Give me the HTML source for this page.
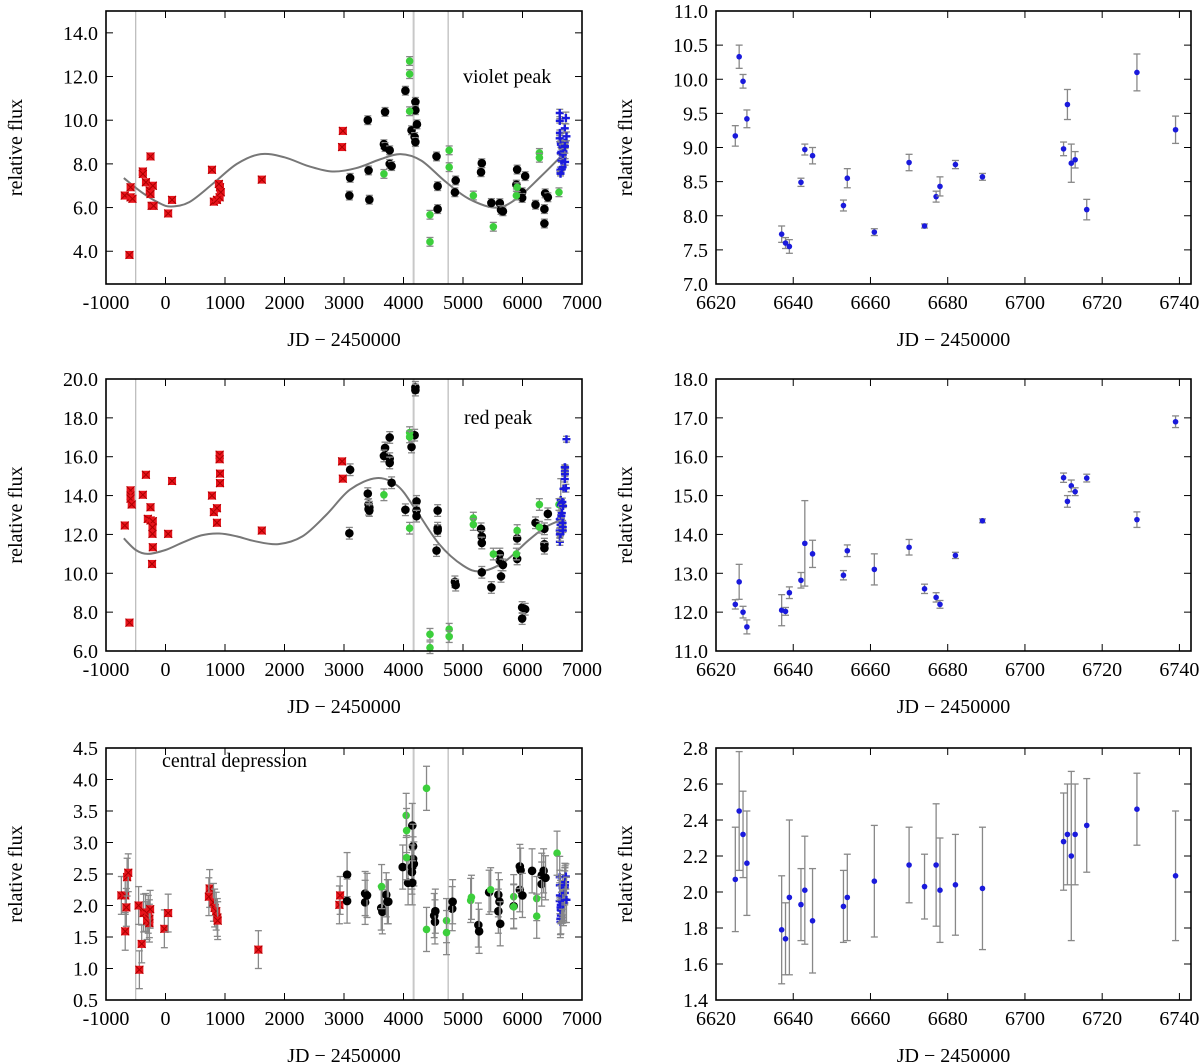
<!DOCTYPE html>
<html><head><meta charset="utf-8"><style>
html,body{margin:0;padding:0;background:#fff}
svg{display:block}
text{font-family:"Liberation Serif",serif;fill:#000}
</style></head><body>
<svg id="c" width="1200" height="1064" viewBox="0 0 1200 1064" xmlns="http://www.w3.org/2000/svg"></svg>
<script>
// ---------- data ----------
const rightJD=[6625,6626,6627,6628,6637,6638,6639,6642,6643,6645,6653,6654,6661,6670,6674,6677,6678,6682,6689,6710,6711,6712,6713,6716,6729,6739];
const violetRight=[9.17,10.33,9.97,9.42,7.73,7.6,7.55,8.49,8.97,8.88,8.15,8.55,7.76,8.78,7.85,8.28,8.43,8.75,8.57,8.98,9.63,8.77,8.82,8.09,10.1,9.26];
const violetRightErr=[0.15,0.17,0.1,0.13,0.12,0.08,0.1,0.06,0.08,0.12,0.08,0.14,0.05,0.12,0.03,0.08,0.14,0.06,0.05,0.1,0.22,0.28,0.12,0.15,0.27,0.2];
const redRight=[12.2,12.78,12.0,11.62,12.05,12.02,12.5,12.82,13.77,13.5,12.95,13.58,13.1,13.67,12.6,12.38,12.2,13.46,14.35,15.46,14.85,15.25,15.1,15.45,14.38,16.9];
const redRightErr=[0.12,0.45,0.15,0.18,0.4,0.1,0.15,0.2,1.1,0.35,0.12,0.15,0.4,0.2,0.12,0.12,0.1,0.08,0.05,0.12,0.15,0.15,0.1,0.1,0.2,0.15];
const centRight=[2.07,2.45,2.32,2.16,1.79,1.74,1.97,1.93,2.01,1.84,1.92,1.97,2.06,2.15,2.03,2.15,2.01,2.04,2.02,2.28,2.32,2.2,2.32,2.37,2.46,2.09];
const centRightErr=[0.29,0.33,0.24,0.29,0.3,0.2,0.43,0.2,0.3,0.29,0.2,0.24,0.31,0.21,0.18,0.34,0.29,0.28,0.34,0.27,0.28,0.47,0.28,0.26,0.2,0.36];

const violetRedJD=[-684,-587,-587,-606,-555,-381,-381,-329,-252,-265,-252,-213,-232,-200,110,45,781,813,865,910,916,929,897,1619,2981,2968];
const violetRed=[6.55,6.47,6.93,3.83,6.4,7.65,7.54,7.16,8.34,6.78,6.62,7.0,6.08,6.08,6.35,5.73,7.73,6.27,6.35,6.47,6.93,6.7,7.08,7.28,9.51,8.77];
const violetBlackJD=[3103,3090,3400,3413,3426,3690,3671,3690,3768,3768,3800,4032,4135,4200,4200,4226,4187,4200,4555,4574,4574,4877,4864,5316,5303,5477,5619,5639,5671,5910,5897,5994,5994,6045,6219,6368,6368,6381,6426];
const violetBlack=[7.36,6.55,10.0,7.7,6.36,10.38,8.9,8.77,8.62,8.0,7.9,11.35,9.54,10.84,10.46,9.81,9.23,9.0,8.34,6.98,5.93,7.24,6.7,8.03,7.62,6.21,6.2,5.89,5.83,7.74,7.05,6.7,6.44,7.44,6.13,5.93,5.27,6.65,6.47];
const violetGreenJD=[4103,4103,4103,3671,4445,4445,4768,4768,5174,5510,5897,5910,6284,6284,6613];
const violetGreen=[12.71,12.11,10.41,7.54,5.67,4.43,8.62,7.85,6.55,5.12,6.55,6.93,8.5,8.28,6.7];
const violetFitJD=[-700,-400,-100,100,400,800,1200,1600,2000,2400,2800,3200,3600,3950,4300,4700,5100,5550,5900,6300,6650];
const violetFit=[7.35,6.7,6.2,6.05,6.25,7.1,8.0,8.45,8.3,7.9,7.65,7.8,8.2,8.45,8.15,7.2,6.4,6.0,6.4,7.4,8.35];

const redRedJD=[-684,-606,-587,-587,-587,-568,-381,-329,-252,-297,-252,-213,-219,-219,-213,-226,45,110,781,813,865,865,910,910,916,916,1619,2968,2981];
const redRed=[12.46,7.46,14.27,14.0,13.84,13.54,14.04,15.07,13.4,12.8,12.72,12.68,12.37,12.03,11.34,10.48,12.03,14.75,14.0,13.15,13.35,12.6,16.1,15.87,15.13,14.64,12.2,15.76,14.87];
const redBlackJD=[3103,3090,3400,3413,3426,3413,3426,3690,3671,3768,3768,3768,3800,4032,4200,4200,4187,4135,4219,4219,4219,4574,4574,4574,4555,4864,4877,5303,5316,5316,5316,5477,5619,5619,5671,5639,5910,5910,5994,6045,5994,6219,6368,6368,6368,6426];
const redBlack=[15.33,12.06,14.1,13.54,13.4,13.3,13.23,16.45,16.04,15.9,15.68,16.99,14.66,13.27,19.57,19.43,17.11,16.5,13.7,13.23,12.94,13.23,12.32,12.2,11.17,9.56,9.39,12.29,11.89,11.56,10.05,9.27,10.99,10.65,10.43,9.84,11.8,10.74,8.24,8.15,7.67,12.6,12.29,11.5,11.29,13.06];
const redGreenJD=[4103,4103,4103,3671,4445,4445,4768,4768,5174,5174,5510,5897,5910,6284,6284,6613];
const redGreen=[17.24,17.02,12.32,14.04,6.86,6.17,7.12,6.74,12.84,12.51,10.99,10.99,12.2,13.54,12.37,13.54];
const redFitJD=[-700,-500,-300,0,300,600,900,1200,1500,1900,2300,2700,3100,3550,3900,4200,4600,5000,5300,5700,6100,6400,6700];
const redFit=[11.8,11.2,11.0,11.2,11.6,11.95,12.05,11.9,11.65,11.5,11.9,13.0,14.3,14.9,14.5,13.3,11.5,10.4,10.1,10.6,11.7,12.4,12.8];

const centRedJD=[-742,-677,-658,-677,-645,-626,-452,-439,-400,-368,-335,-310,-290,-271,-271,-258,-19,45,742,729,806,826,852,871,877,1561,2923,2935];
const centRed=[2.16,2.16,1.97,1.59,2.45,2.52,2.0,0.98,1.39,1.88,1.89,1.76,1.86,1.79,1.72,1.94,1.63,1.88,2.27,2.14,2.05,1.96,1.91,1.81,1.76,1.3,2.01,2.16];
const centBlackJD=[3052,3052,3355,3355,3387,3626,3645,3710,3729,3745,3987,4077,4148,4161,4161,4174,4142,4142,4148,4516,4529,4535,4819,4826,5258,5271,5439,5594,5594,5613,5626,5852,5955,5955,5968,5999,6161,6323,6323,6355,6387];
const centBlack=[2.49,2.07,2.19,2.05,2.16,1.96,1.9,2.17,2.06,2.06,2.61,2.36,3.27,2.94,2.74,2.66,2.61,2.53,2.36,1.84,1.74,1.91,1.95,2.06,1.69,1.59,2.21,2.17,1.91,2.06,1.71,1.99,2.25,2.62,2.56,2.16,2.55,2.34,2.48,2.55,2.44];
const centGreenJD=[3632,4045,4052,4052,4387,4387,4723,4723,5129,5142,5465,5852,5852,6239,6239,6581];
const centGreen=[2.3,3.43,3.19,2.76,3.86,1.62,1.76,1.57,2.08,2.13,2.25,2.14,1.98,2.11,1.83,2.83];

const leftTicksX=[-1000,0,1000,2000,3000,4000,5000,6000,7000];
const rightTicksX=[6620,6640,6660,6680,6700,6720,6740];
const vlinesJD=[-500,4170,4750];

// ---------- drawing ----------
const svg=document.getElementById('c');
const NS='http://www.w3.org/2000/svg';
function mk(tag,attrs,parent){const e=document.createElementNS(NS,tag);for(const k in attrs)e.setAttribute(k,attrs[k]);(parent||svg).appendChild(e);return e;}

function smoothPath(pts){
  let d='M'+pts[0][0].toFixed(1)+','+pts[0][1].toFixed(1);
  for(let i=0;i<pts.length-1;i++){
    const p0=pts[Math.max(0,i-1)],p1=pts[i],p2=pts[i+1],p3=pts[Math.min(pts.length-1,i+2)];
    const c1x=p1[0]+(p2[0]-p0[0])/6,c1y=p1[1]+(p2[1]-p0[1])/6;
    const c2x=p2[0]-(p3[0]-p1[0])/6,c2y=p2[1]-(p3[1]-p1[1])/6;
    d+=` C${c1x.toFixed(1)},${c1y.toFixed(1)} ${c2x.toFixed(1)},${c2y.toFixed(1)} ${p2[0].toFixed(1)},${p2[1].toFixed(1)}`;
  }
  return d;
}

function panel(cfg){
  const g=mk('g',{});
  
  
  const X=v=>cfg.l+(v-cfg.x0)/(cfg.x1-cfg.x0)*(cfg.r-cfg.l);
  const Y=v=>cfg.b-(v-cfg.y0)/(cfg.y1-cfg.y0)*(cfg.b-cfg.t);
  if(cfg.vlines){cfg.vlines.forEach((v,i)=>{const ln=mk('line',{x1:X(v),x2:X(v),y1:cfg.t,y2:cfg.b,stroke:i==1?'#c8c8c8':'#aaa','stroke-width':i==1?2:1},g);
    
    });}
  cfg.xt.forEach(v=>{const x=X(v);
    mk('line',{x1:x,x2:x,y1:cfg.b,y2:cfg.b-7,stroke:'#000','stroke-width':1},g);
    mk('line',{x1:x,x2:x,y1:cfg.t,y2:cfg.t+7,stroke:'#000','stroke-width':1},g);
    const t=mk('text',{x:x,y:cfg.b+25,'font-size':20,'text-anchor':'middle'},g);t.textContent=String(v);
    
    });
  cfg.yt.forEach(v=>{const y=Y(v);
    mk('line',{x1:cfg.l,x2:cfg.l+7,y1:y,y2:y,stroke:'#000','stroke-width':1},g);
    mk('line',{x1:cfg.r,x2:cfg.r-7,y1:y,y2:y,stroke:'#000','stroke-width':1},g);
    const t=mk('text',{x:cfg.l-8,y:y+7,'font-size':20,'text-anchor':'end'},g);t.textContent=v.toFixed(1);
    
    });
  if(cfg.fitX){const pts=cfg.fitX.map((v,i)=>[X(v),Y(cfg.fitY[i])]);
    const p=mk('path',{d:smoothPath(pts),fill:'none',stroke:'#777','stroke-width':2,'stroke-linejoin':'round'},g);
    
    }
  cfg.series.forEach(s=>{
    const sg=mk('g',{},g);
    
    
    s.x.forEach((xv,i)=>{const x=X(xv),y=Y(s.y[i]);
      const e=s.err?(Array.isArray(s.err)?s.err[i]:s.err):0;
      if(e>0){const y1=Y(s.y[i]+e),y2=Y(s.y[i]-e);
        mk('line',{x1:x,x2:x,y1:y1,y2:y2,stroke:'#888','stroke-width':1.3},sg);
        mk('line',{x1:x-3.5,x2:x+3.5,y1:y1,y2:y1,stroke:'#888','stroke-width':1.3},sg);
        mk('line',{x1:x-3.5,x2:x+3.5,y1:y2,y2:y2,stroke:'#888','stroke-width':1.3},sg);}
      let m;
      if(s.mark=='red'){m=mk('rect',{x:x-4,y:y-4,width:8,height:8,fill:'#e8141c'},sg);
        mk('path',{d:`M${x-4},${y-4}L${x+4},${y+4}M${x+4},${y-4}L${x-4},${y+4}`,stroke:'#a00','stroke-width':1},sg);}
      else if(s.mark=='black'){m=mk('circle',{cx:x,cy:y,r:4.3,fill:'#000'},sg);}
      else if(s.mark=='green'){m=mk('circle',{cx:x,cy:y,r:3.8,fill:'#3ccf3c'},sg);}
      else if(s.mark=='blueplus'){m=mk('path',{d:`M${x-4},${y}H${x+4}M${x},${y-4}V${y+4}`,stroke:'#1a1adc','stroke-width':2.4},sg);}
      else {m=mk('circle',{cx:x,cy:y,r:2.8,fill:'#1a1adc'},sg);}
      
      
    });
  });
  const fr=mk('rect',{x:cfg.l,y:cfg.t,width:cfg.r-cfg.l,height:cfg.b-cfg.t,fill:'none',stroke:'#000','stroke-width':1.6},g);
  
  
  const xl=mk('text',{x:(cfg.l+cfg.r)/2,y:cfg.b+62,'font-size':20,'text-anchor':'middle'},g);xl.textContent='JD − 2450000';
  
  
  const yl=mk('text',{x:0,y:0,'font-size':20,'text-anchor':'middle',transform:`translate(${cfg.l-84},${(cfg.t+cfg.b)/2}) rotate(-90)`},g);yl.textContent='relative flux';
  
  
  if(cfg.label){const t=mk('text',{x:cfg.label[0],y:cfg.label[1],'font-size':20},g);t.textContent=cfg.label[2];
    
    }
}
const L={l:106,r:582,x0:-1000,x1:7000,xt:leftTicksX,vlines:vlinesJD};
const R={l:716,r:1191,x0:6620,x1:6743,xt:rightTicksX};
panel(Object.assign({},L,{name:'violet-peak-panel',t:11,b:284,y0:2.5,y1:15,yt:[4,6,8,10,12,14],fitX:violetFitJD,fitY:violetFit,label:[463,83,'violet peak'],
 series:[{name:'red-series',x:violetRedJD,y:violetRed,mark:'red',err:0.12},{name:'black-series',x:violetBlackJD,y:violetBlack,mark:'black',err:0.2},{name:'green-series',x:violetGreenJD,y:violetGreen,mark:'green',err:0.2},{name:'blue-series',x:rightJD,y:violetRight,mark:'blueplus',err:violetRightErr}]}));
panel(Object.assign({},R,{name:'violet-peak-zoom-panel',t:11,b:284,y0:7,y1:11,yt:[7,7.5,8,8.5,9,9.5,10,10.5,11],
 series:[{name:'blue-series',x:rightJD,y:violetRight,mark:'blue',err:violetRightErr}]}));
panel(Object.assign({},L,{name:'red-peak-panel',t:379,b:651,y0:6,y1:20,yt:[6,8,10,12,14,16,18,20],fitX:redFitJD,fitY:redFit,label:[464,424,'red peak'],
 series:[{name:'red-series',x:redRedJD,y:redRed,mark:'red',err:0.15},{name:'black-series',x:redBlackJD,y:redBlack,mark:'black',err:0.3},{name:'green-series',x:redGreenJD,y:redGreen,mark:'green',err:0.3},{name:'blue-series',x:rightJD,y:redRight,mark:'blueplus',err:redRightErr}]}));
panel(Object.assign({},R,{name:'red-peak-zoom-panel',t:379,b:651,y0:11,y1:18,yt:[11,12,13,14,15,16,17,18],
 series:[{name:'blue-series',x:rightJD,y:redRight,mark:'blue',err:redRightErr}]}));
panel(Object.assign({},L,{name:'central-depression-panel',t:748,b:1000,y0:0.5,y1:4.5,yt:[0.5,1,1.5,2,2.5,3,3.5,4,4.5],label:[162,767,'central depression'],
 series:[{name:'red-series',x:centRedJD,y:centRed,mark:'red',err:0.3},{name:'black-series',x:centBlackJD,y:centBlack,mark:'black',err:0.35},{name:'green-series',x:centGreenJD,y:centGreen,mark:'green',err:0.35},{name:'blue-series',x:rightJD,y:centRight,mark:'blueplus',err:centRightErr}]}));
panel(Object.assign({},R,{name:'central-depression-zoom-panel',t:748,b:1000,y0:1.4,y1:2.8,yt:[1.4,1.6,1.8,2,2.2,2.4,2.6,2.8],
 series:[{name:'blue-series',x:rightJD,y:centRight,mark:'blue',err:centRightErr}]}));
</script>
</body></html>
